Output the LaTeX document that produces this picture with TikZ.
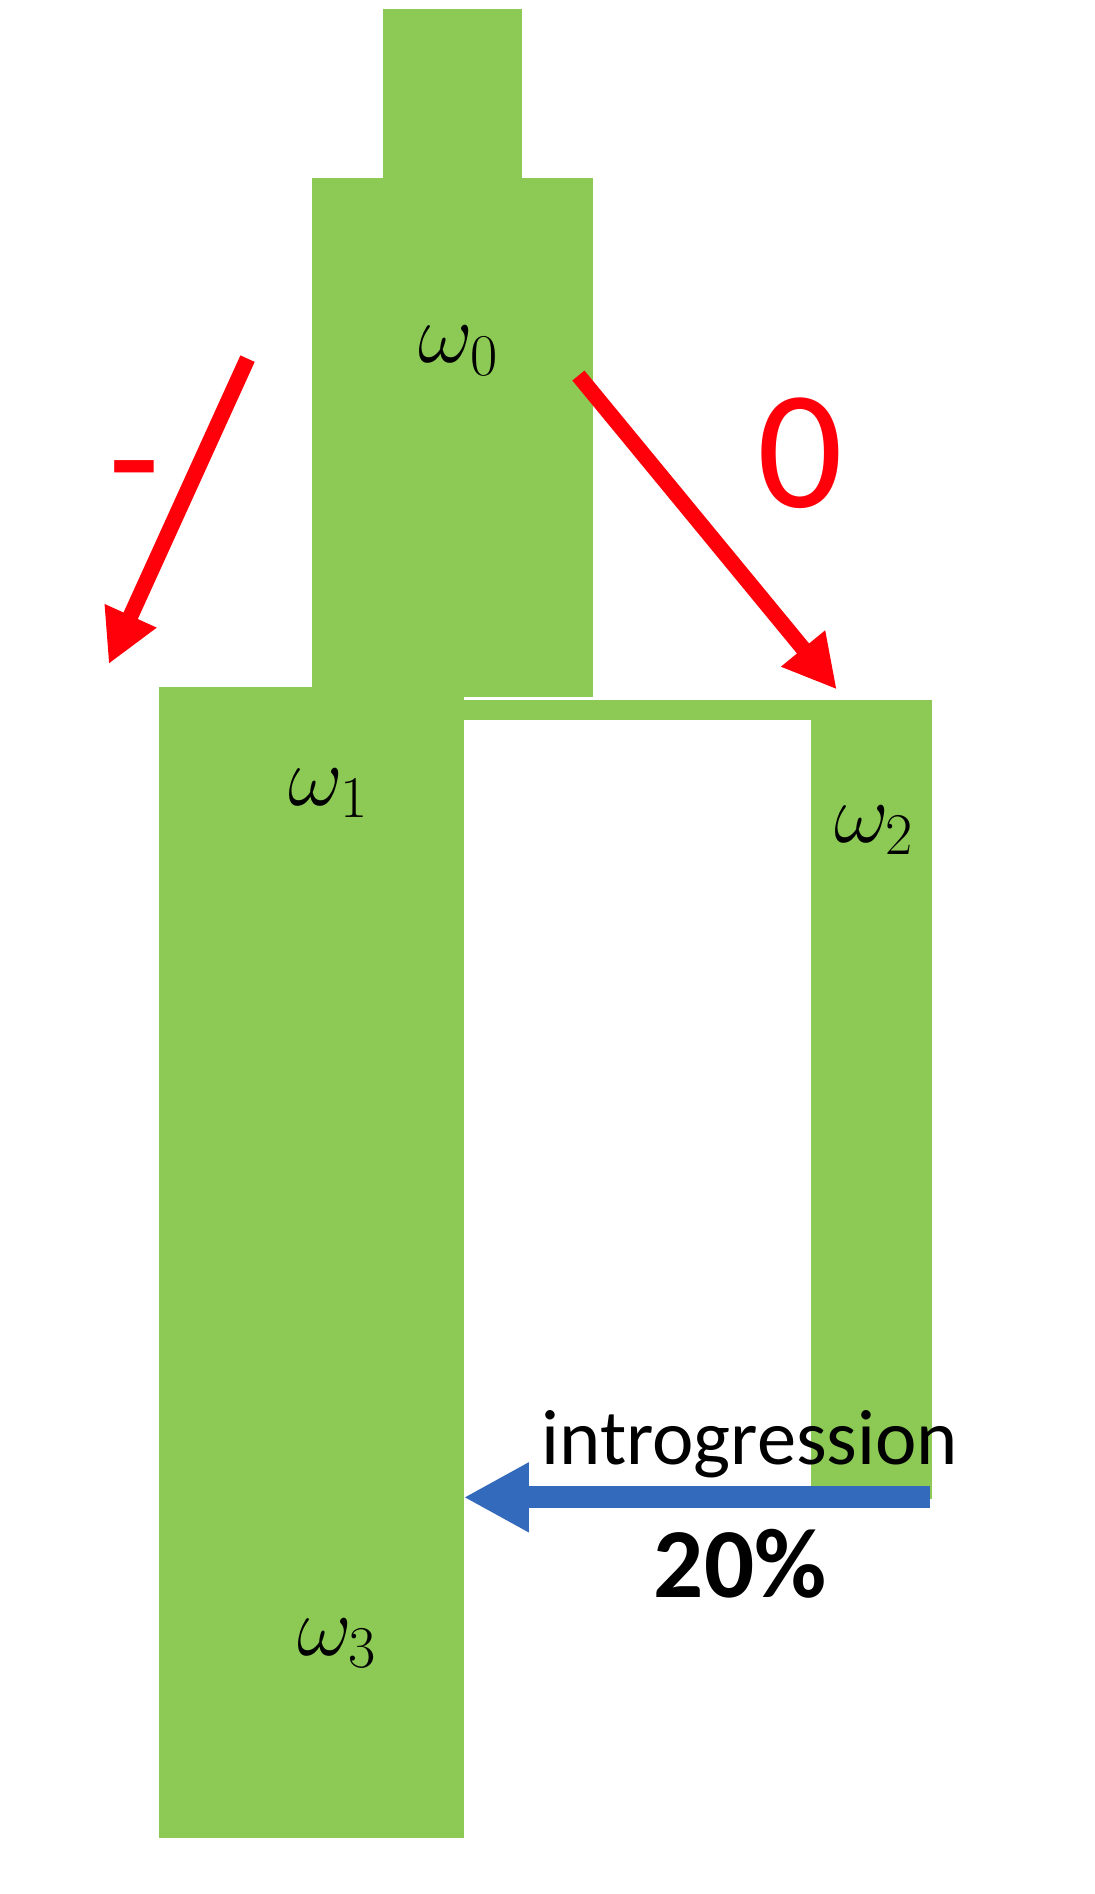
\RequirePackage{fix-cm}
\documentclass[tikz,border=0pt]{standalone}
\usepackage{fontspec}
\newfontfamily\calibri{Carlito}
\usetikzlibrary{arrows.meta}
\definecolor{leafgreen}{RGB}{140,202,85}
\definecolor{arrowblue}{RGB}{52,106,188}
\definecolor{signred}{RGB}{255,0,10}
\begin{document}
\begin{tikzpicture}[x=1pt,y=-1pt,
  block/.style={fill=leafgreen, draw=none, inner sep=0pt, outer sep=0pt, anchor=north west},
  redarrow/.style={draw=signred, line width=13pt, -{Triangle[length=44pt,width=44pt]}},
  bluearrow/.style={draw=arrowblue, line width=18pt, -{Triangle[length=54pt,width=54pt]}},
  wlabel/.style={anchor=base, inner sep=0pt, font=\fontsize{70}{84}\selectfont},
  redsign/.style={anchor=base, inner sep=0pt, text=signred, font=\calibri\fontsize{140}{168}\selectfont}]
\useasboundingbox (0,0) rectangle (906,1568.5);
% green blocks
\node[block, minimum width=115pt, minimum height=139.5pt] (stem) at (317,7.5) {};
\node[block, minimum width=233pt, minimum height=430pt] (w0block) at (258,147) {};
\node[block, minimum width=252pt, minimum height=953pt] (w1col) at (132,569) {};
\node[block, minimum width=388pt, minimum height=16.5pt] (bar) at (384,579.5) {};
\node[block, minimum width=100pt, minimum height=661.5pt] (w2col) at (672,579.5) {};
% labels
\node[wlabel] (lab0) at (379.7,300.6) {$\omega_0$};
\node[wlabel] (lab1) at (272,666.7) {$\omega_1$};
\node[wlabel] (lab2) at (723.8,697.3) {$\omega_2$};
\node[wlabel] (lab3) at (279,1370.6) {$\omega_3$};
% red arrows
\coordinate (lstart) at (205,297);
\coordinate (ltip) at (90,550);
\draw[redarrow] (lstart) -- (ltip);
\coordinate (rstart) at (479,311);
\coordinate (rtip) at (693,571);
\draw[redarrow] (rstart) -- (rtip);
\node[redsign] (minus) at (111,426) {-};
\node[redsign] (zero) at (662.5,420.5) {0};
% introgression arrow
\coordinate (introfrom) at (770,1240);
\draw[bluearrow] (introfrom) -- (introfrom -| w1col.east);
\node[anchor=base, inner sep=0pt, font=\calibri\fontsize{65}{78}\selectfont] (introlabel) at (621,1213) {introgression};
\node[anchor=base, inner sep=0pt, font=\calibri\bfseries\fontsize{82}{98}\selectfont] (pct) at (613,1323) {20\%};
\end{tikzpicture}
\end{document}
